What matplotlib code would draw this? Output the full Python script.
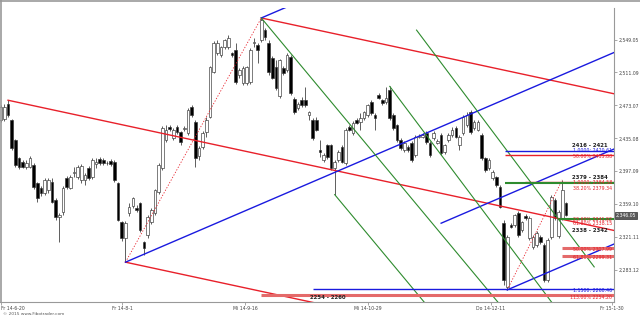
import matplotlib
matplotlib.use("Agg")
import matplotlib.pyplot as plt
from matplotlib.lines import Line2D

# daily candles
opens = [2456, 2457, 2475, 2456, 2433, 2412, 2408, 2402, 2402, 2404,
         2383, 2378, 2372, 2375, 2385, 2364, 2344, 2350, 2389, 2378,
         2395, 2390, 2387, 2387, 2401, 2390, 2405, 2411, 2410, 2407,
         2409, 2408, 2383, 2338, 2320, 2349, 2357, 2354, 2360, 2315,
         2323, 2338, 2349, 2373, 2401, 2433, 2448, 2435, 2448, 2442,
         2446, 2441, 2471, 2454, 2415, 2425, 2442, 2460, 2512, 2534,
         2531, 2540, 2540, 2534, 2537, 2508, 2499, 2499, 2500, 2545,
         2543, 2548, 2560, 2545, 2528, 2517, 2484, 2516, 2514, 2529,
         2481, 2470, 2479, 2479, 2462, 2456, 2456, 2421, 2410, 2427,
         2427, 2401, 2410, 2425, 2406, 2448, 2441, 2456, 2454, 2458,
         2462, 2477, 2462, 2485, 2479, 2477, 2491, 2462, 2450, 2433,
         2421, 2425, 2430, 2416, 2437, 2437, 2441, 2430, 2435, 2430,
         2439, 2419, 2433, 2439, 2447, 2427, 2441, 2450, 2465, 2447,
         2445, 2439, 2412, 2401, 2389, 2390, 2379, 2337, 2263, 2335,
         2335, 2349, 2329, 2345, 2320, 2309, 2312, 2321, 2312, 2271,
         2321, 2364, 2322, 2343, 2360]
highs = [2473, 2475, 2479, 2457, 2434, 2414, 2410, 2410, 2415, 2406,
         2385, 2380, 2389, 2389, 2389, 2366, 2349, 2380, 2391, 2393,
         2402, 2404, 2405, 2395, 2403, 2412, 2412, 2413, 2412, 2409,
         2411, 2410, 2385, 2340, 2340, 2360, 2367, 2358, 2362, 2317,
         2346, 2354, 2377, 2406, 2449, 2450, 2450, 2447, 2450, 2444,
         2449, 2470, 2473, 2456, 2426, 2443, 2460, 2519, 2547, 2549,
         2542, 2550, 2554, 2535, 2545, 2516, 2518, 2519, 2539, 2551,
         2545, 2574, 2562, 2548, 2530, 2525, 2527, 2518, 2533, 2531,
         2483, 2477, 2483, 2494, 2467, 2458, 2460, 2433, 2418, 2429,
         2429, 2410, 2421, 2427, 2447, 2450, 2455, 2458, 2464, 2467,
         2475, 2479, 2464, 2487, 2481, 2494, 2495, 2464, 2452, 2435,
         2432, 2427, 2432, 2439, 2440, 2441, 2443, 2432, 2443, 2434,
         2441, 2429, 2441, 2448, 2449, 2439, 2462, 2465, 2468, 2456,
         2456, 2441, 2414, 2412, 2398, 2392, 2381, 2341, 2323, 2337,
         2348, 2351, 2340, 2348, 2345, 2323, 2328, 2323, 2314, 2320,
         2369, 2366, 2352, 2387, 2362]
lows = [2454, 2455, 2460, 2421, 2402, 2400, 2401, 2400, 2401, 2377,
        2361, 2368, 2370, 2372, 2360, 2341, 2315, 2347, 2377, 2376,
        2390, 2388, 2383, 2381, 2387, 2388, 2401, 2404, 2404, 2404,
        2403, 2385, 2339, 2317, 2292, 2345, 2355, 2350, 2327, 2300,
        2320, 2336, 2347, 2371, 2399, 2431, 2443, 2433, 2440, 2427,
        2443, 2439, 2460, 2402, 2410, 2423, 2437, 2458, 2510, 2531,
        2529, 2538, 2538, 2529, 2498, 2505, 2497, 2497, 2498, 2540,
        2522, 2546, 2548, 2508, 2503, 2491, 2482, 2508, 2512, 2485,
        2463, 2468, 2471, 2471, 2456, 2433, 2443, 2413, 2408, 2411,
        2399, 2370, 2408, 2406, 2404, 2443, 2439, 2451, 2445, 2456,
        2460, 2462, 2445, 2480, 2474, 2475, 2456, 2445, 2431, 2422,
        2419, 2419, 2408, 2414, 2435, 2435, 2429, 2413, 2433, 2428,
        2416, 2417, 2431, 2437, 2435, 2421, 2439, 2448, 2440, 2445,
        2443, 2410, 2396, 2399, 2387, 2379, 2354, 2266, 2260, 2331,
        2333, 2321, 2327, 2341, 2318, 2307, 2310, 2313, 2269, 2269,
        2319, 2341, 2320, 2341, 2345]
closes = [2471, 2471, 2462, 2424, 2404, 2402, 2402, 2407, 2412, 2379,
          2366, 2372, 2387, 2387, 2361, 2344, 2346, 2378, 2379, 2390,
          2396, 2402, 2403, 2393, 2389, 2410, 2408, 2406, 2406, 2406,
          2405, 2387, 2341, 2320, 2337, 2356, 2366, 2352, 2329, 2308,
          2344, 2352, 2375, 2404, 2447, 2445, 2446, 2445, 2442, 2431,
          2447, 2468, 2462, 2412, 2424, 2441, 2456, 2517, 2545, 2545,
          2540, 2548, 2551, 2531, 2500, 2514, 2516, 2517, 2537, 2546,
          2537, 2572, 2552, 2512, 2505, 2493, 2525, 2510, 2531, 2487,
          2465, 2475, 2473, 2473, 2465, 2435, 2445, 2419, 2416, 2413,
          2401, 2408, 2419, 2408, 2445, 2445, 2453, 2453, 2458, 2465,
          2473, 2464, 2458, 2482, 2476, 2482, 2458, 2447, 2433, 2424,
          2430, 2421, 2410, 2437, 2438, 2439, 2431, 2416, 2441, 2432,
          2418, 2427, 2439, 2445, 2437, 2437, 2460, 2462, 2442, 2454,
          2454, 2412, 2398, 2410, 2396, 2381, 2356, 2271, 2321, 2333,
          2346, 2323, 2338, 2343, 2343, 2321, 2326, 2315, 2271, 2318,
          2367, 2343, 2350, 2375, 2346]

x_ticks = [0, 33.1, 66.6, 100.1, 133.6, 166.6]
x_labels = ["Fr 14-6-20", "Fr 14-8-1", "Mi 14-9-16", "Mi 14-10-29",
            "Do 14-12-11", "Fr 15-1-30"]
y_ticks = [2549.05, 2511.09, 2473.07, 2435.08, 2397.09, 2359.10, 2321.11, 2283.12]
last_price = 2346.05

# red pitchfork: handle, low, high
pf_pivot = (2, 2479)
pf_low = (34, 2292)
pf_high = (71, 2574)
# second swing (dotted)
swing2 = [(138, 2260), (153, 2387)]

# blue channel: base line and starting points of the parallels
blue_a = (34, 2292)
blue_b = (128, 2463)
blue_starts = [(71, 2574), (120, 2337), (138, 2260)]

# green parallels: start x, start price, slope per bar, end x (None = to the edge)
green_lines = [(71, 2574, -5.09, None), (91, 2370, -5.09, None),
               (106, 2495, -5.65, None), (113.3, 2560, -5.65, 161.7)]

# horizontal levels
level_prices = [2420.6, 2415.9, 2384.9, 2383.0, 2342.0, 2308.0, 2299.3, 2260.5, 2254.2]
level_starts = [137.4, 137.4, 142.9, 137.4, 152, 153, 153, 85, 71]
level_kinds = ["blue", "red", "red", "green", "green", "band", "band", "blue", "band"]

label_texts = ["1.0000: 2420.61", "50.00% 2415.88", "1.0000: 2384.58", "38.20% 2379.34",
               "23.60% 2341.92", "61.80% 2338.15", "50.00% 2307.99", "61.80% 2299.31",
               "1.1500: 2260.46", "113.00% 2254.20"]
label_prices = [2421.0, 2414.6, 2383.6, 2377.0, 2341.6, 2336.6, 2307.2, 2297.9, 2259.8, 2251.6]
label_kinds = ["blue", "red", "red", "red", "red", "red", "red", "red", "blue", "red"]

zone_texts = ["2416 - 2421", "2379 - 2384", "2338 - 2342", "2254 - 2260"]
zone_x = [165.3, 165.3, 165.3, 89.2]
zone_prices = [2426.5, 2389.5, 2329.0, 2251.0]

RED = "#e8202a"
BLUE = "#1a1adf"
GREEN = "#2e8b2e"
BAND = "#e46a6a"
kind_color = {"red": RED, "blue": BLUE, "green": GREEN, "band": BAND}
kind_width = {"red": 1.0, "blue": 1.0, "green": 1.5, "band": 2.2}

XMIN, XMAX = -0.19, 167.1
YMIN, YMAX = 2246.0, 2585.5

fig = plt.figure(figsize=(6.4, 3.18), dpi=100)
ax = fig.add_axes([0.0, 0.0503, 0.9594, 0.9245])
ax.set_xlim(XMIN, XMAX)
ax.set_ylim(YMIN, YMAX)

# candles
xs = list(range(len(opens)))
ax.vlines(xs, lows, highs, color="#333333", lw=0.55, zorder=2)
bottoms = [min(o, c) for o, c in zip(opens, closes)]
heights = [max(abs(c - o), 0.9) for o, c in zip(opens, closes)]
faces = ["white" if c >= o else "black" for o, c in zip(opens, closes)]
ax.bar(xs, heights, bottom=bottoms, width=0.72, color=faces,
       edgecolor="#333333", linewidth=0.45, zorder=3)


def ray(x0, y0, slope, x1=None, **kw):
    if x1 is None:
        x1 = XMAX
    ax.plot([x0, x1], [y0, y0 + slope * (x1 - x0)], zorder=4, **kw)


# pitchfork
mid = ((pf_low[0] + pf_high[0]) / 2, (pf_low[1] + pf_high[1]) / 2)
pf_slope = (mid[1] - pf_pivot[1]) / (mid[0] - pf_pivot[0])
ray(pf_pivot[0], pf_pivot[1], pf_slope, color=RED, lw=1.0)
ray(pf_high[0], pf_high[1], pf_slope, color=RED, lw=1.0)
ray(pf_low[0], pf_low[1], pf_slope, color=RED, lw=1.0)
ax.plot([pf_low[0], pf_high[0]], [pf_low[1], pf_high[1]], color=RED, lw=0.6,
        ls=(0, (1.5, 2)), zorder=4)
ax.plot([p[0] for p in swing2], [p[1] for p in swing2], color=RED, lw=0.6,
        ls=(0, (1.5, 2)), zorder=4)

# blue channel
blue_slope = (blue_b[1] - blue_a[1]) / (blue_b[0] - blue_a[0])
ray(blue_a[0], blue_a[1], blue_slope, color=BLUE, lw=1.0)
for bx, by in blue_starts:
    ray(bx, by, blue_slope, color=BLUE, lw=1.0)

# green lines
for gx, gy, gs, gend in green_lines:
    ray(gx, gy, gs, gend, color=GREEN, lw=0.8)

# levels
for price, start, kind in zip(level_prices, level_starts, level_kinds):
    ax.plot([start, XMAX], [price, price], color=kind_color[kind],
            lw=kind_width[kind], zorder=4, solid_capstyle="butt")

for txt, price, kind in zip(label_texts, label_prices, label_kinds):
    ax.text(166.6, price, txt, ha="right", va="center", fontsize=3.4,
            color=kind_color[kind], zorder=6)

for txt, zx, price in zip(zone_texts, zone_x, zone_prices):
    ax.text(zx, price, txt, ha="right" if zx > 100 else "center", va="center",
            fontsize=3.9, fontweight="bold", color="#222222", zorder=6)

# axes styling
for side in ["left", "top"]:
    ax.spines[side].set_visible(False)
for side in ["right", "bottom"]:
    ax.spines[side].set_color("#999999")
    ax.spines[side].set_linewidth(0.8)
ax.yaxis.tick_right()
ax.set_yticks(y_ticks)
ax.set_yticklabels([f"{v:,.2f}" for v in y_ticks])
ax.set_xticks(x_ticks)
ax.set_xticklabels(x_labels)
ax.get_xticklabels()[0].set_ha("left")
ax.tick_params(axis="both", labelsize=3.3, colors="#999999", labelcolor="#444444",
               length=1.8, width=0.6, pad=1.2)

ax.text(1.003, last_price, f"{last_price:,.2f}", transform=ax.get_yaxis_transform(),
        ha="left", va="center", fontsize=3.3, color="white", clip_on=False,
        bbox=dict(boxstyle="square,pad=0.2", fc="#5a5a5a", ec="#333333", lw=0.5))

fig.add_artist(Line2D([0.001, 0.001], [0.05, 1], color="#999999", lw=1.2,
                      transform=fig.transFigure))
fig.add_artist(Line2D([0, 1], [0.998, 0.998], color="#999999", lw=1.2,
                      transform=fig.transFigure))
fig.text(0.005, 0.008, "© 2015 www.Fibotrader.com", fontsize=3.1, color="#555555")

fig.savefig("out.png", dpi=100)
